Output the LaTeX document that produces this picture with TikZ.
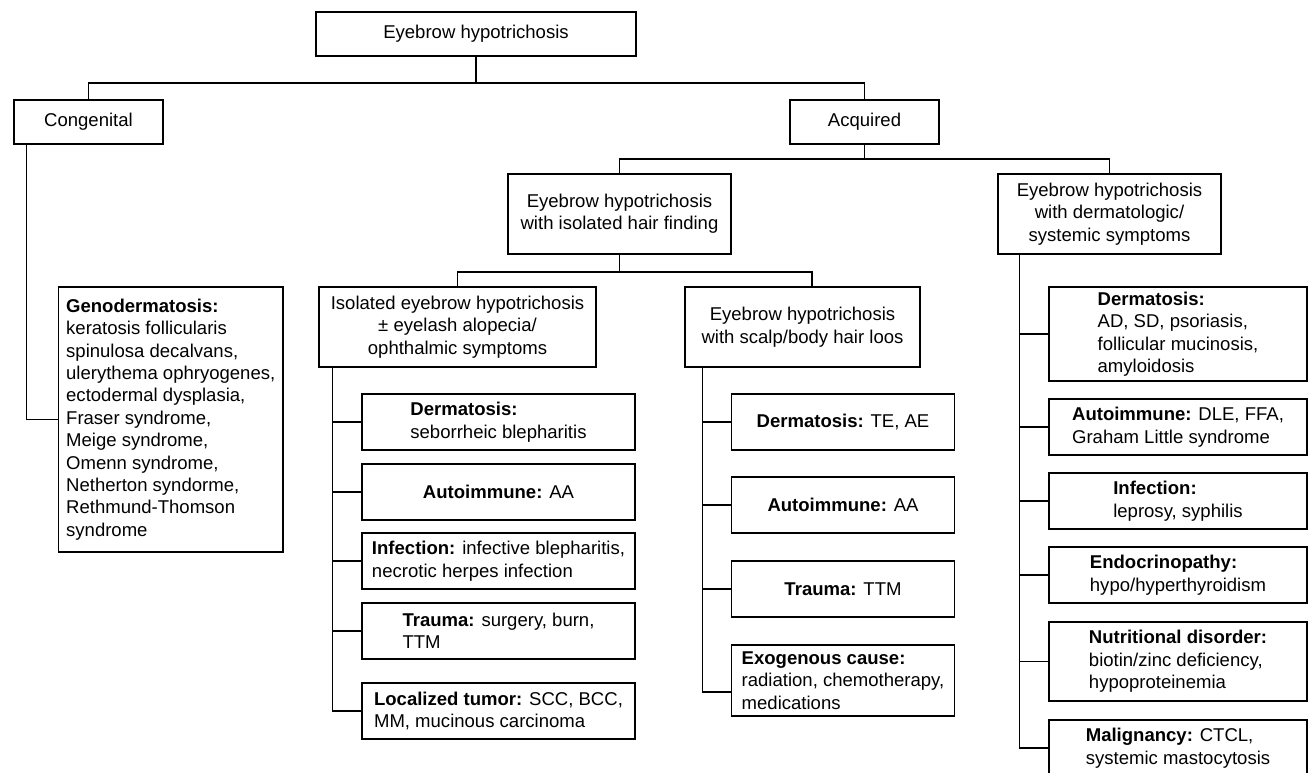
\documentclass[tikz,border=0pt]{standalone}
\usepackage{fontspec}
\setmainfont{Liberation Sans}
\begin{document}
\begin{tikzpicture}[x=0.75pt,y=-0.75pt,
  box/.style={draw=black, line width=0.9pt, inner sep=0pt, fill=white,
    font=\fontsize{13.9}{16.8}\selectfont},
  hdr/.style={box, align=center},
  item/.style={box, align=left},
  link/.style={draw=black, line width=0.9pt},
  lw/.style={minimum width=204.75pt, minimum height=42pt},
  mw/.style={minimum width=167.6pt, minimum height=42pt},
  rw/.style={minimum width=193.5pt, minimum height=42pt}]
\useasboundingbox (0,0) rectangle (1309,772);
\fill[white] (0,0) rectangle (1309,772);
\clip (0,0) rectangle (1309,772);

% headers
\node[hdr, minimum width=240pt, minimum height=33pt] (root) at (476,34) {Eyebrow hypotrichosis};
\node[hdr, minimum width=111.75pt, minimum height=33pt] (cong) at (88.5,122) {Congenital};
\node[hdr, minimum width=111.75pt, minimum height=33pt] (acq) at (864.5,122) {Acquired};
\node[hdr, minimum width=167.25pt, minimum height=60pt] (hair) at (619.5,214) {Eyebrow hypotrichosis\\with isolated hair finding};
\node[hdr, minimum width=167.25pt, minimum height=60pt] (derm) at (1109.5,214) {Eyebrow hypotrichosis\\with dermatologic/\\systemic symptoms};
\node[hdr, minimum width=207.75pt, minimum height=60pt] (iso) at (457.5,327) {Isolated eyebrow hypotrichosis\\± eyelash alopecia/\\ophthalmic symptoms};
\node[hdr, minimum width=176.25pt, minimum height=60pt] (scalp) at (802.5,327) {Eyebrow hypotrichosis\\with scalp/body hair loos};

% congenital
\node[item, minimum width=168.4pt, minimum height=198.75pt] (geno) at (170.75,419.5) {\textbf{Genodermatosis:}\\keratosis follicularis\\spinulosa decalvans,\\ulerythema ophryogenes,\\ectodermal dysplasia,\\Fraser syndrome,\\Meige syndrome,\\Omenn syndrome,\\Netherton syndorme,\\Rethmund-Thomson\\syndrome};

% isolated column
\node[item, lw] (l1) at (498.5,422) {\textbf{Dermatosis:}\\seborrheic blepharitis};
\node[item, lw] (l2) at (498.5,492) {\textbf{Autoimmune:} AA};
\node[item, lw] (l3) at (498.5,561) {\textbf{Infection:} infective blepharitis,\\necrotic herpes infection};
\node[item, lw] (l4) at (498.5,631) {\textbf{Trauma:} surgery, burn,\\TTM};
\node[item, lw] (l5) at (498.5,711) {\textbf{Localized tumor:} SCC, BCC,\\MM, mucinous carcinoma};

% scalp column
\node[item, mw] (m1) at (843,422) {\textbf{Dermatosis:} TE, AE};
\node[item, mw] (m2) at (843,505) {\textbf{Autoimmune:} AA};
\node[item, mw] (m3) at (843,589) {\textbf{Trauma:} TTM};
\node[item, mw, minimum height=53.25pt] (m4) at (843,680.5) {\textbf{Exogenous cause:}\\radiation, chemotherapy,\\medications};

% dermatologic column
\node[item, rw, minimum height=70.5pt] (r1) at (1178,334) {\textbf{Dermatosis:}\\AD, SD, psoriasis,\\follicular mucinosis,\\amyloidosis};
\node[item, rw] (r2) at (1178,427) {\textbf{Autoimmune:} DLE, FFA,\\Graham Little syndrome};
\node[item, rw] (r3) at (1178,501) {\textbf{Infection:}\\leprosy, syphilis};
\node[item, rw] (r4) at (1178,575) {\textbf{Endocrinopathy:}\\hypo/hyperthyroidism};
\node[item, rw, minimum height=59.25pt] (r5) at (1178,661.5) {\textbf{Nutritional disorder:}\\biotin/zinc deficiency,\\hypoproteinemia};
\node[item, rw] (r6) at (1178,748) {\textbf{Malignancy:} CTCL,\\systemic mastocytosis};

% connectors
\coordinate (j0) at (476,83);
\coordinate (j1) at (864.5,159);
\coordinate (j2) at (619.5,272);
\draw[link] (root.south) -- (j0);
\draw[link] (cong.north) |- (j0) -| (acq.north);
\draw[link] (acq.south) -- (j1);
\draw[link] (hair.north) |- (j1) -| (derm.north);
\draw[link] (hair.south) -- (j2);
\draw[link] (iso.north) |- (j2) -| ([xshift=7.1pt]scalp.north);

\draw[link] ([xshift=9.75pt]cong.south west) |- (geno.west);

\coordinate (ib) at ([xshift=10.5pt]iso.south west);
\draw[link] (ib) |- (l5.west);
\foreach \n in {l1,l2,l3,l4} \draw[link] (ib |- \n.west) -- (\n.west);

\coordinate (sb) at ([xshift=13.5pt]scalp.south west);
\draw[link] (sb) |- ([yshift=-8.6pt]m4.west);
\foreach \n in {m1,m2,m3} \draw[link] (sb |- \n.west) -- (\n.west);

\coordinate (db) at ([xshift=16.5pt]derm.south west);
\draw[link] (db) |- (r6.west);
\foreach \n in {r1,r2,r3,r4,r5} \draw[link] (db |- \n.west) -- (\n.west);
\end{tikzpicture}
\end{document}
